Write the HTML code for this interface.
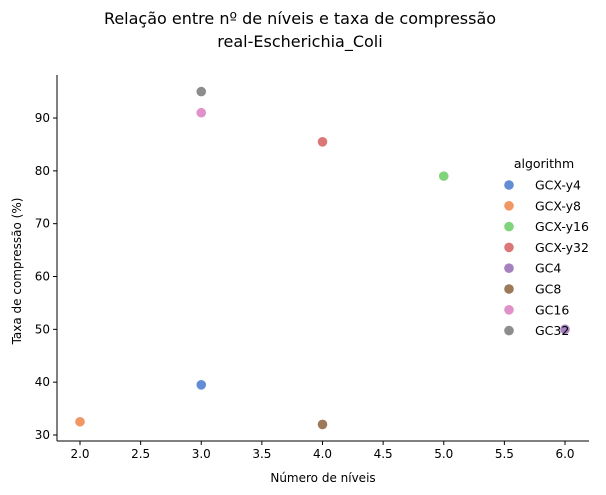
<!DOCTYPE html>
<html><head><meta charset="utf-8"><style>
html,body{margin:0;padding:0;background:#fff;width:606px;height:495px;overflow:hidden}
svg text{font-family:"DejaVu Sans","Liberation Sans",sans-serif;fill:#000}
</style></head><body>
<svg id="chart" width="606" height="495" viewBox="0 0 606 495">
<text x="300" y="24" font-size="16" text-anchor="middle">Relação entre nº de níveis e taxa de compressão</text>
<text x="300" y="47" font-size="16" text-anchor="middle">real-Escherichia_Coli</text>
<g id="axes"></g>
<g id="points"></g>
<g id="legend"></g>
</svg>
<script>
const categories=["GCX-y4","GCX-y8","GCX-y16","GCX-y32","GC4","GC8","GC16","GC32"];
const xs=[3,2,5,4,6,4,3,3];
const ys=[39.5,32.5,79,85.5,50,32,91,95];
const xTicks=[2.0,2.5,3.0,3.5,4.0,4.5,5.0,5.5,6.0];
const yTicks=[30,40,50,60,70,80,90];
const colors=["#4878d0","#ee854a","#6acc64","#d65f5f","#956cb4","#8c613c","#dc7ec0","#797979"];
const NS="http://www.w3.org/2000/svg";
const L=57,R=589,T=75,B=441;
function sx(v){return 80+(v-2)*121.25;}
function sy(v){return 435-(v-30)*5.283;}
function mk(tag,attrs,parent){const e=document.createElementNS(NS,tag);for(const k in attrs)e.setAttribute(k,attrs[k]);parent.appendChild(e);return e;}
const ax=document.getElementById('axes');
let sp=mk('line',{x1:L,y1:T,x2:L,y2:B,stroke:'#000','stroke-width':1},ax);


sp=mk('line',{x1:L,y1:B,x2:R,y2:B,stroke:'#000','stroke-width':1},ax);


xTicks.forEach(t=>{const x=sx(t);
 const l=mk('line',{x1:x,y1:B,x2:x,y2:B+4,stroke:'#000'},ax);
 
 
 const tx=mk('text',{x:x,y:B+17,'font-size':12,'text-anchor':'middle'},ax);tx.textContent=t.toFixed(1);
 
 
});
yTicks.forEach(t=>{const y=sy(t);
 const l=mk('line',{x1:L-4,y1:y,x2:L,y2:y,stroke:'#000'},ax);
 
 
 const tx=mk('text',{x:L-7,y:y+4,'font-size':12,'text-anchor':'end'},ax);tx.textContent=t;
 
 
});
let xt=mk('text',{x:323,y:482,'font-size':12,'text-anchor':'middle'},ax);xt.textContent='Número de níveis';


let yt=mk('text',{x:0,y:0,'font-size':12,'text-anchor':'middle',transform:'translate(21,271) rotate(-90)'},ax);yt.textContent='Taxa de compressão (%)';


const pg=document.getElementById('points');
categories.forEach((c,i)=>{
 const p=mk('circle',{cx:sx(xs[i]),cy:sy(ys[i]),r:4.8,fill:colors[i],'fill-opacity':0.85},pg);
 
 
});
const lg=document.getElementById('legend');
let lt=mk('text',{x:544,y:168,'font-size':12.5,'text-anchor':'middle'},lg);lt.textContent='algorithm';


categories.forEach((c,i)=>{
 const y=185+i*20.8;
 const g=mk('g',{},lg);
 
 
 mk('circle',{cx:509,cy:y,r:4.8,fill:colors[i],'fill-opacity':0.85},g);
 const t=mk('text',{x:535,y:y+4.5,'font-size':12.5},g);t.textContent=c;
});
</script>
</body></html>
